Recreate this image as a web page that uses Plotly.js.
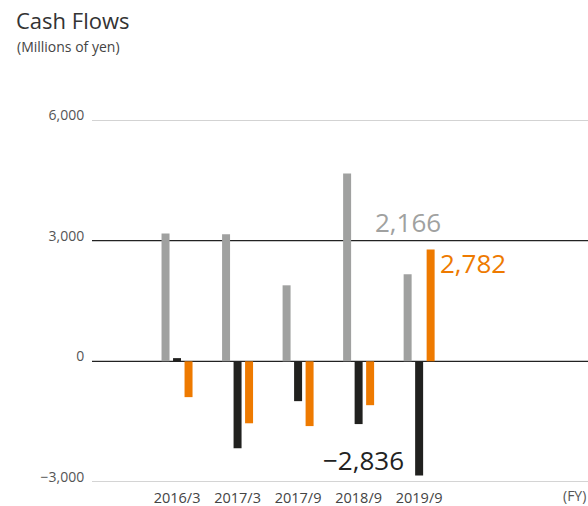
<!DOCTYPE html>
<html>
<head>
<meta charset="utf-8">
<script src="https://cdn.plot.ly/plotly-3.0.1.min.js"></script>
<style>html,body{margin:0;padding:0;background:#fff;}#chart{width:588px;height:506px;}</style>
</head>
<body>
<div id="chart"></div>
<script>
const categories = ["2016/3", "2017/3", "2017/9", "2018/9", "2019/9"];
const operatingCF = [3180, 3160, 1890, 4670, 2166];
const investingCF = [80, -2160, -990, -1560, -2836];
const financingCF = [-890, -1540, -1610, -1090, 2782];
const yTicks = [-3000, 0, 3000, 6000];
const yTickText = ["\u22123,000", "0", "3,000", "6,000"];

const xIdx = categories.map((c, i) => i);
const barW = 0.132;
const step = 0.19;
const colors = ["#a0a1a0", "#21211f", "#ee7a00"];
const series = [operatingCF, investingCF, financingCF];
const names = ["Operating", "Investing", "Financing"];

const traces = series.map((vals, k) => ({
  type: "bar",
  x: xIdx,
  y: vals,
  name: names[k],
  width: barW,
  offset: (k - 1) * step - barW / 2,
  marker: { color: colors[k] },
  hoverinfo: "y"
}));

const last = categories.length - 1;
const font = "'Open Sans', Lato, sans-serif";
const gridColors = ["#a8a8a8", "#222", "#222", "#a8a8a8"];

const gridShapes = yTicks.map((v, i) => ({
  type: "line", xref: "paper", x0: 0, x1: 1, yref: "y", y0: v, y1: v,
  line: { color: gridColors[i], width: i === 1 || i === 2 ? 1.3 : 1 }, layer: "below"
}));

const layout = {
  width: 588, height: 506,
  margin: { l: 92, r: 0, t: 120, b: 24 },
  paper_bgcolor: "#fff", plot_bgcolor: "rgba(0,0,0,0)",
  showlegend: false,
  font: { family: font, color: "#444" },
  title: {
    text: "Cash Flows",
    font: { family: font, size: 22, color: "#333" },
    xref: "container", x: 16 / 588, xanchor: "left",
    yref: "container", y: 1 - 14 / 506, yanchor: "top"
  },
  xaxis: {
    range: [-1.405, 6.79],
    tickvals: xIdx, ticktext: categories,
    showgrid: false, zeroline: false, showline: false,
    ticks: "outside", ticklen: 3, tickcolor: "rgba(0,0,0,0)",
    tickfont: { size: 14.5, color: "#444", family: font }
  },
  yaxis: {
    range: [-3000, 6000],
    tickvals: yTicks, ticktext: yTickText,
    showgrid: false, zeroline: false,
    ticks: "outside", ticklen: 4, tickcolor: "rgba(0,0,0,0)",
    ticklabelshift: -5,
    tickfont: { size: 14, color: "#555", family: font },
    showline: false
  },
  shapes: gridShapes,
  annotations: [
    { text: "(Millions of yen)", xref: "paper", yref: "paper",
      x: -77 / 496, y: (482 - 47) / 362, xanchor: "left", yanchor: "middle",
      showarrow: false, font: { size: 14, color: "#444", family: font } },
    { text: "(FY)", xref: "paper", yref: "paper", x: 1, y: -13 / 362,
      xanchor: "right", yanchor: "middle", showarrow: false,
      font: { size: 14, color: "#555", family: font } },
    { text: "2,166", xref: "x", yref: "y", x: last - step, y: operatingCF[last],
      xanchor: "center", yanchor: "bottom", yshift: 32, showarrow: false,
      font: { size: 26, color: "#a0a1a0", family: font } },
    { text: "2,782", xref: "x", yref: "y", x: last + step + barW / 2, y: financingCF[last],
      xanchor: "left", yanchor: "top", xshift: 3, yshift: 6, showarrow: false,
      font: { size: 26, color: "#ee7a00", family: font } },
    { text: "\u22122,836", xref: "x", yref: "y", x: last - barW / 2, y: investingCF[last],
      xanchor: "right", yanchor: "bottom", xshift: -9, yshift: -5, showarrow: false,
      font: { size: 26, color: "#222", family: font } }
  ]
};

Plotly.newPlot("chart", traces, layout, { displayModeBar: false, staticPlot: true });
</script>
</body>
</html>
